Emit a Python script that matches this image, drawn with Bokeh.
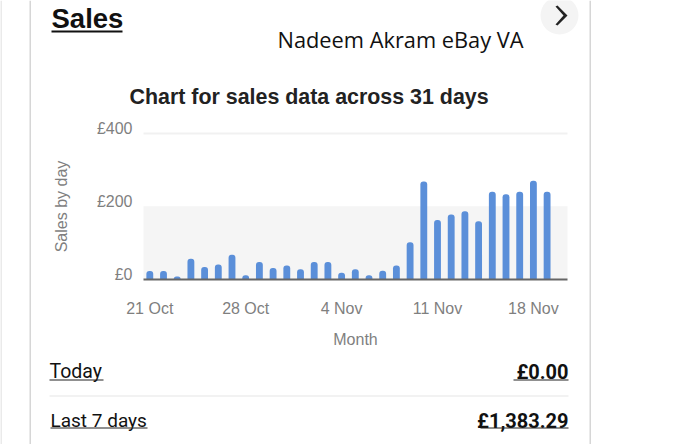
import pandas as pd
from bokeh.embed import file_html
from bokeh.resources import INLINE
from bokeh.plotting import figure
from bokeh.models import (
    BoxAnnotation,
    DatetimeTickFormatter,
    FixedTicker,
    Label,
    PolyAnnotation,
    PrintfTickFormatter,
    Range1d,
)

WIDTH = 680
HEIGHT = 444

days = pd.date_range("2019-10-21", "2019-11-20")
sales = [
    22, 22, 7, 56, 33, 40, 67, 10, 47, 30, 37, 27, 47, 47, 17, 27,
    10, 23, 37, 101, 268, 162, 177, 186, 159, 240, 233, 240, 270, 240, 0,
]
x_ticks = ["2019-10-21", "2019-10-28", "2019-11-04", "2019-11-11", "2019-11-18"]
y_ticks = [0, 200, 400]

TEXT_GREY = "#7f7f7f"
BAR_COLOUR = "#5b8fd9"
RULE_COLOUR = "#d6d6d6"

# the frame fills the whole canvas, the chart itself sits inside it
PX_PER_DAY = 13.7
PX_PER_POUND = 72.75 / 200
DAY_X = 149.3
ZERO_Y = 278.5
Y_START = (ZERO_Y - HEIGHT) / PX_PER_POUND
Y_END = ZERO_Y / PX_PER_POUND
# the y tick labels sit 5px above the lines they belong to
LABEL_SHIFT = 5 / PX_PER_POUND


def day_at(px):
    return days[0] + pd.Timedelta(days=(px - DAY_X) / PX_PER_DAY)


plot_left = day_at(143)
plot_right = day_at(567)

p = figure(
    width=WIDTH,
    height=HEIGHT,
    x_axis_type="datetime",
    x_range=(day_at(0), day_at(WIDTH)),
    y_range=(Y_START, Y_END),
    toolbar_location=None,
    tools="",
    output_backend="svg",
    min_border=0,
    outline_line_color=None,
)
p.extra_y_ranges = {"tick_labels": Range1d(Y_START - LABEL_SHIFT, Y_END - LABEL_SHIFT)}


def box(left, right, top, bottom, colour, **kwargs):
    p.add_layout(
        BoxAnnotation(
            left=left,
            right=right,
            top=HEIGHT - top,
            bottom=HEIGHT - bottom,
            left_units="screen",
            right_units="screen",
            top_units="screen",
            bottom_units="screen",
            fill_color=colour,
            fill_alpha=1,
            line_color=None,
            **kwargs,
        )
    )


def text(x, y, label, size, colour="#111111", font="Liberation Sans", style="normal", align="left"):
    p.add_layout(
        Label(
            x=x,
            y=HEIGHT - y,
            x_units="screen",
            y_units="screen",
            text=label,
            text_font=font,
            text_font_size=size,
            text_font_style=style,
            text_color=colour,
            text_align=align,
            text_baseline="middle",
        )
    )


# shaded band behind the bars
p.add_layout(
    BoxAnnotation(
        left=plot_left,
        right=plot_right,
        bottom=0,
        top=200,
        fill_color="#f5f5f5",
        fill_alpha=1,
        line_color=None,
        level="underlay",
    )
)
p.line(x=[plot_left, plot_right], y=[400, 400], line_color="#f1f1f1", line_width=2)

p.vbar(
    x=days,
    top=sales,
    width=pd.Timedelta(days=0.5),
    fill_color=BAR_COLOUR,
    line_color=None,
    border_radius=(3, 3, 0, 0),
)

p.xaxis.fixed_location = 0
p.xaxis.bounds = (plot_left.timestamp() * 1000, plot_right.timestamp() * 1000)
p.xaxis.ticker = FixedTicker(ticks=[pd.Timestamp(t).timestamp() * 1000 for t in x_ticks])
p.xaxis.formatter = DatetimeTickFormatter(days="%-d %b", months="%-d %b")
p.xaxis.axis_label = "Month"
p.xaxis.axis_label_standoff = 10
p.xaxis.major_label_standoff = 15
p.xaxis.axis_line_color = "#666666"
p.xaxis.axis_line_width = 2
p.xaxis.major_tick_line_color = None
p.xaxis.minor_tick_line_color = None

p.yaxis.y_range_name = "tick_labels"
p.yaxis.fixed_location = plot_left.timestamp() * 1000
p.yaxis.bounds = (-28, 400)
p.yaxis.ticker = FixedTicker(ticks=y_ticks)
p.yaxis.formatter = PrintfTickFormatter(format="£%d")
p.yaxis.axis_label = "Sales by day"
p.yaxis.axis_label_standoff = 24
p.yaxis.major_label_standoff = 5
p.yaxis.axis_line_color = None
p.yaxis.major_tick_line_color = None
p.yaxis.minor_tick_line_color = None

for ax in (p.xaxis, p.yaxis):
    ax.major_label_text_font = "Liberation Sans"
    ax.major_label_text_font_size = "16px"
    ax.major_label_text_color = TEXT_GREY
    ax.axis_label_text_font = "Liberation Sans"
    ax.axis_label_text_font_size = "16px"
    ax.axis_label_text_font_style = "normal"
    ax.axis_label_text_color = TEXT_GREY

p.xgrid.visible = False
p.ygrid.visible = False

# card frame
box(0, 1, 0, HEIGHT, RULE_COLOUR)
box(29, 30.5, 0, HEIGHT, RULE_COLOUR)
box(589, 590.5, 0, HEIGHT, RULE_COLOUR)
box(49, 568, 395, 396, "#e6e6e6")

# round button with chevron
box(540, 578, -4, 34, "#f4f4f4", border_radius=19)
p.add_layout(
    PolyAnnotation(
        xs=[555, 557, 567, 557, 555, 563],
        ys=[HEIGHT - 6, HEIGHT - 5, HEIGHT - 15, HEIGHT - 25, HEIGHT - 24, HEIGHT - 15],
        xs_units="screen",
        ys_units="screen",
        fill_color="#222222",
        fill_alpha=1,
        line_color=None,
    )
)

text(51, 18, "Sales", "27.5px", style="bold")
box(51, 122, 30, 32, "#111111")
text(277, 39, "Nadeem Akram eBay VA", "21.8px", font="Open Sans")
text(129, 96.5, "Chart for sales data across 31 days", "21.4px", colour="#222222", style="bold")

text(49, 371, "Today", "19.5px", font="Roboto")
box(49, 103, 379, 380, "#222222")
text(568, 371, "£0.00", "20px", font="Roboto", style="bold", align="right")
box(513, 568, 379, 380, "#222222")
text(50, 420, "Last 7 days", "19px", font="Roboto")
box(50, 147, 427, 428, "#222222")
text(568, 420, "£1,383.29", "20px", font="Roboto", style="bold", align="right")
box(480, 568, 427, 428, "#222222")

open("out.html", "w").write(file_html(p, INLINE))
